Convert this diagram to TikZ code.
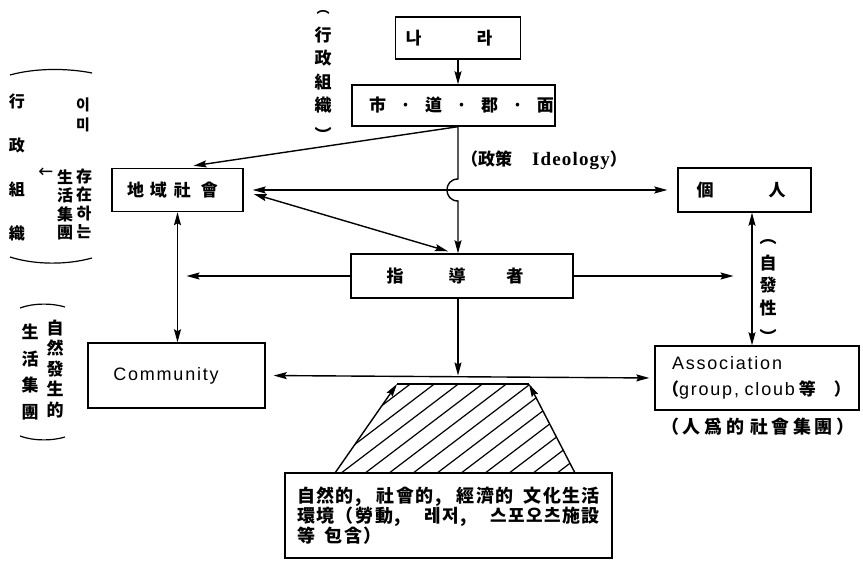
\documentclass[tikz,border=0pt]{standalone}
\usepackage{fontspec}
\setmainfont{Liberation Sans}
\newfontfamily\cjk{Noto Sans CJK KR}
\newfontfamily\cjkls[LetterSpace=20]{Noto Sans CJK KR}
\newfontfamily\cjkenv[LetterSpace=8]{Noto Sans CJK KR}
\newfontfamily\lsans[LetterSpace=10]{Liberation Sans}
\newfontfamily\iserif[LetterSpace=6]{Liberation Serif}
\newfontfamily\symfont{DejaVu Sans}
\usetikzlibrary{arrows.meta,calc}
\begin{document}
\begin{tikzpicture}[x=1pt,y=-1pt,
  >={Stealth[length=13pt,width=7pt,inset=2pt]},
  box/.style={draw,line width=1.4pt,inner sep=0pt,font=\cjk\bfseries\fontsize{17}{20}\selectfont},
  con/.style={line width=1.4pt},
  brace/.style={line width=1.2pt},
  lab/.style={inner sep=0pt,align=center,font=\cjk\bfseries\fontsize{16}{19}\selectfont},
]
\fill[white] (0,0) rectangle (863,561);
\useasboundingbox (0,0) rectangle (863,561);

% boxes
\node[box,minimum width=125,minimum height=42] (nara) at (458,38) {\makebox[0pt]{나\hspace{55pt}라\hspace{18pt}}};
\node[box,minimum width=203,minimum height=41] (si) at (453.5,105.5) {\makebox[0pt]{\hspace{16pt}\makebox[28pt]{市}\makebox[28pt]{·}\makebox[28pt]{道}\makebox[28pt]{·}\makebox[28pt]{郡}\makebox[28pt]{·}\makebox[28pt]{面}}};
\node[box,minimum width=131,minimum height=43] (jiyeok) at (177.5,190) {\makebox[0pt]{地\hspace{6pt}域\hspace{7pt}社\hspace{10pt}會\hspace{10pt}}};
\node[box,minimum width=133,minimum height=44] (gaein) at (744.5,190) {\makebox[0pt]{個\hspace{55pt}人\hspace{7pt}}};
\node[box,minimum width=222,minimum height=44] (jido) at (462,276) {\makebox[0pt]{指\hspace{45pt}導\hspace{41pt}者\hspace{14pt}}};
\node[box,minimum width=177,minimum height=65] (comm) at (176.5,375.5) {\makebox[0pt]{\lsans\mdseries\fontsize{18}{20}\selectfont Community\hspace{21pt}}};
\node[box,minimum width=204,minimum height=64,align=left,text width=190,font=\cjk\bfseries\fontsize{17}{26}\selectfont] (assoc) at (757,378)
  {\hspace*{10pt}{\lsans\mdseries\fontsize{18}{26}\selectfont Association}\\\mbox{（{\lsans\mdseries\fontsize{18}{26}\selectfont group, cloub}\hspace{4pt}等\hspace{18pt}）}};
\node[box,minimum width=327,minimum height=85,align=left,text width=303,font=\cjkenv\bfseries\fontsize{18}{20}\selectfont] (env) at (448.5,515.5)
  {\makebox[303pt][l]{自然的,\hfill 社會的,\hfill 經濟的\hspace{10pt}文化生活}\\
   \makebox[303pt][l]{環境（\hspace{2pt}勞動,\hfill 레저,\hfill 스포오츠施設}\\
   等\hspace{10pt}包含）};

% labels
\node[inner sep=0pt,anchor=base,font=\cjk\bfseries\fontsize{13}{13}\selectfont] (hjo) at (323,14) {︵};
\node[lab,font=\cjk\bfseries\fontsize{17}{23.5}\selectfont] (hj) at (323,84) {行\\政\\組\\織\\\raisebox{-6pt}{︶}};
\node[lab,font=\cjk\bfseries\fontsize{17}{20}\selectfont] (idl) at (544,160) {（政策\hspace{20pt}{\iserif\fontsize{19}{20}\selectfont Ideology}）};
\node[lab,font=\cjk\bfseries\fontsize{17}{22.5}\selectfont] (jb) at (768,292) {\raisebox{3pt}{︵}\\自\\發\\性\\\raisebox{-7pt}{︶}};
\node[lab,font=\cjkls\bfseries\fontsize{18}{20}\selectfont] (ig) at (758,427) {（人爲的\hspace{6pt}社會集團）};

\node[lab,font=\cjk\bfseries\fontsize{16}{44}\selectfont] (hj1) at (17,167.5) {行\\政\\組\\織};
\node[lab,font=\cjk\bfseries\fontsize{15}{20}\selectfont] (imi) at (83,115) {이\\미};
\node[lab,font=\cjk\bfseries\fontsize{16}{18.5}\selectfont] (jc) at (84,204) {存\\在\\하\\는};
\node[lab,font=\cjk\bfseries\fontsize{16}{18.5}\selectfont] (sh1) at (65,205) {生\\活\\集\\團};
\node[inner sep=0pt,font=\symfont\fontsize{18}{20}\selectfont] (larr) at (46,173) {←};

\node[lab,font=\cjk\bfseries\fontsize{17}{20.5}\selectfont] (ss) at (55,369) {自\\然\\發\\生\\的};
\node[lab,font=\cjk\bfseries\fontsize{17}{26.7}\selectfont] (sh2) at (30,372) {生\\活\\集\\團};

% brace arcs
\draw[brace] (10,75) .. controls (35,68) and (67,68) .. (92,73);
\draw[brace] (10,257) .. controls (35,265) and (67,265) .. (92,258);
\draw[brace] (20,308) .. controls (33,303) and (52,303) .. (65,307);
\draw[brace] (20,436) .. controls (33,441) and (52,441) .. (65,437);

% connectors
\draw[con,->] (nara.south) -- (nara.south |- si.north);
\draw[con,->] (nara.south |- si.south) -- ($(jiyeok.north)+(16,-2)$);
\draw[con,->] (nara.south |- si.south) -- ($(nara.south |- jiyeok.east)+(0,-11)$)
  .. controls +(-14.7,0) and +(-14.7,0) .. ($(nara.south |- jiyeok.east)+(0,11)$)
  -- (nara.south |- jido.north);
\draw[con,<->,shorten <=9pt,shorten >=10pt] (jiyeok.east) -- (gaein.west);
\draw[con,<->] ($(jiyeok.east)+(10,4)$) -- ($(jido.north)+(-14,-2)$);
\draw[con,->] (jido.west) -- ($(jiyeok.south |- jido.west)+(9,0)$);
\draw[con,->] (jido.east) -- ($(gaein.south |- jido.east)+(-11,0)$);
\draw[con,<->] (jiyeok.south) -- (jiyeok.south |- comm.north);
\draw[con,->] (nara.south |- jido.south) -- (nara.south |- comm.east);
\draw[con,<->,shorten <=8pt,shorten >=5pt] (comm.east) -- (assoc.west);
\coordinate (gv) at ($(gaein.south)+(7.5,0)$);
\draw[con,<->] (gv) -- (gv |- assoc.north);

% hatched trapezoid
\coordinate (tl) at (397,384);
\coordinate (tr) at (529,384);
\coordinate (bl) at (335,473);
\coordinate (br) at (575,473);
\begin{scope}
\clip (tl) -- (tr) -- (br) -- (bl) -- cycle;
\foreach \i in {0,...,14} \draw[line width=1.2pt] (260+24*\i,480) -- ++(200,-152);
\end{scope}
\draw[con] (tl) -- (tr);
\draw[con,->] (bl) -- (tl);
\draw[con,->] (br) -- (tr);
\end{tikzpicture}
\end{document}
